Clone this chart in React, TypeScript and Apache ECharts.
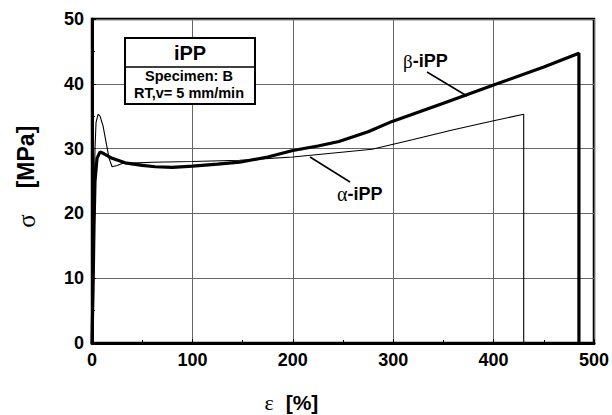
import React, { useEffect, useRef } from "react";
import * as echarts from "echarts";

// β-iPP (thick curve)
const betaStrain = [0, 1, 2, 3, 5, 8, 12, 20, 33, 50, 63, 80, 100, 125, 147, 175, 200, 225, 246, 275, 299, 350, 400, 450, 485, 485];
const betaStress = [0, 8, 18, 25, 28.5, 29.5, 29.2, 28.5, 27.8, 27.4, 27.2, 27.1, 27.3, 27.6, 27.9, 28.7, 29.7, 30.4, 31.1, 32.6, 34.2, 37.0, 39.8, 42.6, 44.7, 0];

// α-iPP (thin curve)
const alphaStrain = [0, 1, 2, 3, 4, 6, 8, 11, 14, 17, 20, 25, 30, 45, 60, 100, 147, 200, 246, 279, 320, 360, 400, 430, 430];
const alphaStress = [0, 10, 22, 30, 34, 35.3, 35, 33.5, 31, 28.5, 27.2, 27.4, 27.7, 27.8, 27.9, 28.0, 28.2, 28.7, 29.4, 29.9, 31.4, 32.9, 34.3, 35.3, 0];

const xTicks = [0, 100, 200, 300, 400, 500];
const yTicks = [0, 10, 20, 30, 40, 50];

const SANS = "'Liberation Sans', Arial, sans-serif";
const SERIF = "'Liberation Serif', 'DejaVu Serif', serif";

export default function App() {
  const ref = useRef<HTMLDivElement>(null);
  useEffect(() => {
    if (!ref.current) return;
    const chart = echarts.init(ref.current, null, { renderer: "svg" });
    const zip = (a: number[], b: number[]) => a.map((v, i) => [v, b[i]]);
    const axisCommon = {
      type: "value" as const,
      axisLine: { show: true, lineStyle: { color: "#000", width: 3 } },
      axisTick: { show: true, inside: true, length: 4, lineStyle: { color: "#000", width: 1 } },
      minorTick: { show: true, splitNumber: 2, length: 3, lineStyle: { color: "#000", width: 1 } },
      splitLine: { show: true, lineStyle: { color: "#666", width: 1 } },
      axisLabel: { color: "#000", fontFamily: SANS, fontWeight: "bold" as const, fontSize: 18, margin: 8 },
    };
    chart.setOption({
      animation: false,
      backgroundColor: "#fff",
      grid: { left: 92, right: 17, top: 19, bottom: 72, show: true, borderColor: "#000", borderWidth: 2.5 },
      xAxis: {
        ...axisCommon,
        min: xTicks[0],
        max: xTicks[xTicks.length - 1],
        interval: 100,
      },
      yAxis: {
        ...axisCommon,
        min: yTicks[0],
        max: yTicks[yTicks.length - 1],
        interval: 10,
      },
      series: [
        {
          name: "β-iPP",
          type: "line",
          data: zip(betaStrain, betaStress),
          showSymbol: false,
          lineStyle: { color: "#000", width: 3.2 },
          z: 3,
        },
        {
          name: "α-iPP",
          type: "line",
          data: zip(alphaStrain, alphaStress),
          showSymbol: false,
          lineStyle: { color: "#000", width: 1.1 },
          z: 4,
        },
      ],
      graphic: [
        { type: "rect", z: 20, shape: { x: 125, y: 38, width: 130, height: 66 }, style: { fill: "#fff", stroke: "#000", lineWidth: 2 } },
        { type: "line", z: 21, shape: { x1: 125, y1: 67, x2: 255, y2: 67 }, style: { stroke: "#000", lineWidth: 1.5 } },
        { type: "text", z: 21, x: 190, y: 53, style: { text: "iPP", fontFamily: SANS, fontWeight: "bold", fontSize: 20, fill: "#000", align: "center", verticalAlign: "middle" } },
        { type: "text", z: 21, x: 189, y: 76, style: { text: "Specimen: B", fontFamily: SANS, fontWeight: "bold", fontSize: 14.5, fill: "#000", align: "center", verticalAlign: "middle" } },
        { type: "text", z: 21, x: 189, y: 93, style: { text: "RT,v= 5 mm/min", fontFamily: SANS, fontWeight: "bold", fontSize: 14.5, fill: "#000", align: "center", verticalAlign: "middle" } },
        // β-iPP label and leader
        {
          type: "text", z: 21, x: 403, y: 61,
          style: {
            text: "{g|β}{b|-iPP}", verticalAlign: "middle", align: "left",
            rich: {
              g: { fontFamily: SERIF, fontSize: 19, fill: "#000" },
              b: { fontFamily: SANS, fontWeight: "bold", fontSize: 18, fill: "#000" },
            },
          },
        },
        { type: "line", z: 21, shape: { x1: 427, y1: 72, x2: 467, y2: 96 }, style: { stroke: "#000", lineWidth: 1.5 } },
        // α-iPP label and leader
        {
          type: "text", z: 21, x: 337, y: 194,
          style: {
            text: "{g|α}{b|-iPP}", verticalAlign: "middle", align: "left",
            rich: {
              g: { fontFamily: SERIF, fontSize: 20, fill: "#000" },
              b: { fontFamily: SANS, fontWeight: "bold", fontSize: 18, fill: "#000" },
            },
          },
        },
        { type: "line", z: 21, shape: { x1: 310, y1: 157, x2: 350, y2: 182 }, style: { stroke: "#000", lineWidth: 1.5 } },
        // axis titles
        { type: "text", z: 21, x: 26, y: 157, rotation: Math.PI / 2, style: { text: "[MPa]", fontFamily: SANS, fontWeight: "bold", fontSize: 23, fill: "#000", align: "center", verticalAlign: "middle" } },
        { type: "text", z: 21, x: 26, y: 221, rotation: Math.PI / 2, style: { text: "σ", fontFamily: SERIF, fontSize: 25, fill: "#000", align: "center", verticalAlign: "middle" } },
        { type: "text", z: 21, x: 269, y: 402, style: { text: "ε", fontFamily: SERIF, fontSize: 22, fill: "#000", align: "center", verticalAlign: "middle" } },
        { type: "text", z: 21, x: 302, y: 402, style: { text: "[%]", fontFamily: SANS, fontWeight: "bold", fontSize: 21, fill: "#000", align: "center", verticalAlign: "middle" } },
      ],
    });
    return () => chart.dispose();
  }, []);
  return <div ref={ref} style={{ position: "fixed", left: 0, top: 0, width: 612, height: 415 }} />;
}
